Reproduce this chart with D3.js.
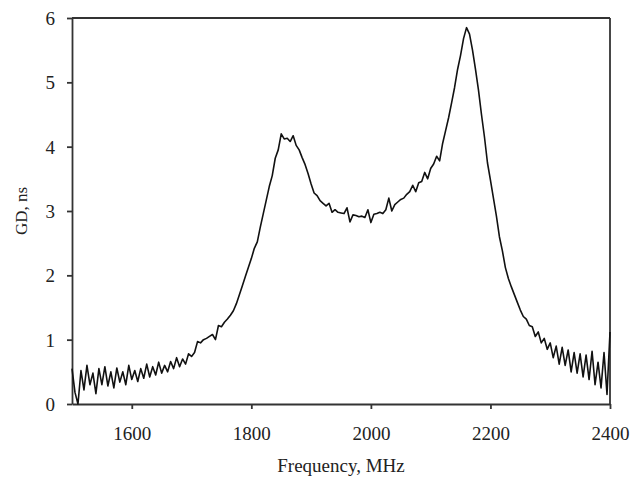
<!DOCTYPE html>
<html>
<head>
<meta charset="utf-8">
<script src="https://cdn.jsdelivr.net/npm/d3@7"></script>
<style>
  body { margin: 0; background: #fff; }
  text { font-family: "Liberation Serif", "Times New Roman", serif; fill: #222; }
</style>
</head>
<body>
<svg id="chart" width="643" height="483"></svg>
<script>
// frequency grid of the sweep (MHz)
const freqStart = 1500;
const freqStep = 5;

// group delay (ns), one value per 5 MHz, 1500..2400
const gdValues = [
    0.55, 0.18, 0.0, 0.52, 0.22, 0.6, 0.3, 0.48, 0.16, 0.55,
    0.3, 0.58, 0.28, 0.5, 0.25, 0.56, 0.34, 0.5, 0.3, 0.6,
    0.38, 0.52, 0.35, 0.55, 0.4, 0.62, 0.42, 0.58, 0.45, 0.65,
    0.48, 0.6, 0.5, 0.66, 0.55, 0.72, 0.58, 0.7, 0.62, 0.78,
    0.74, 0.8, 0.97, 0.95, 1.0, 1.02, 1.05, 1.08, 1.0, 1.22,
    1.2, 1.27, 1.32, 1.38, 1.45, 1.56, 1.7, 1.84, 1.98, 2.12,
    2.26, 2.42, 2.52, 2.75, 2.96, 3.17, 3.38, 3.55, 3.82, 3.95,
    4.2, 4.12, 4.13, 4.08, 4.17, 4.02, 3.95, 3.83, 3.72, 3.58,
    3.42, 3.28, 3.24, 3.16, 3.12, 3.08, 3.12, 2.98, 3.02, 2.98,
    2.97, 2.96, 3.05, 2.83, 2.94, 2.93, 2.91, 2.92, 2.9, 3.02,
    2.82, 2.95, 2.96, 2.98, 2.96, 3.02, 3.2, 3.0, 3.1, 3.14,
    3.18, 3.2, 3.26, 3.3, 3.4, 3.3, 3.44, 3.46, 3.6, 3.5,
    3.66, 3.73, 3.85, 3.78, 4.05, 4.25, 4.45, 4.68, 4.92, 5.2,
    5.42, 5.68, 5.85, 5.75, 5.5, 5.2, 4.88, 4.5, 4.15, 3.75,
    3.48, 3.2, 2.92, 2.6, 2.38, 2.12, 1.95, 1.82, 1.7, 1.58,
    1.46, 1.36, 1.32, 1.22, 1.2, 1.05, 1.12, 0.95, 1.02, 0.85,
    0.95, 0.72, 0.9, 0.62, 0.88, 0.6, 0.84, 0.5, 0.8, 0.48,
    0.78, 0.42, 0.76, 0.38, 0.82, 0.3, 0.65, 0.25, 0.8, 0.15,
    1.12
];

const xTicks = [1600, 1800, 2000, 2200, 2400];
const yTicks = [0, 1, 2, 3, 4, 5, 6];

const data = gdValues.map((v, i) => ({ f: freqStart + i * freqStep, gd: v }));

const svg = d3.select("#chart");
const margin = { top: 18, right: 33, bottom: 79, left: 72 };
const width = +svg.attr("width");
const height = +svg.attr("height");
const innerWidth = width - margin.left - margin.right;
const innerHeight = height - margin.top - margin.bottom;

const x = d3.scaleLinear().domain([1500, 2400]).range([0, innerWidth]);
const y = d3.scaleLinear().domain([0, 6]).range([innerHeight, 0]);

const g = svg.append("g")
    .attr("transform", `translate(${margin.left},${margin.top})`);

const axisColor = "#333";

// frame: top and right edges
g.append("line")
    .attr("x1", 0).attr("x2", innerWidth)
    .attr("y1", 0).attr("y2", 0)
    .attr("stroke", axisColor).attr("stroke-width", 1.8);
g.append("line")
    .attr("x1", innerWidth).attr("x2", innerWidth)
    .attr("y1", 0).attr("y2", innerHeight)
    .attr("stroke", axisColor).attr("stroke-width", 1.8);

const xAxis = g.append("g")
    .attr("transform", `translate(0,${innerHeight})`)
    .call(d3.axisBottom(x).tickValues(xTicks).tickFormat(d3.format("d"))
        .tickSize(5).tickSizeOuter(0));

xAxis.selectAll("text")
    .attr("y", 36)
    .attr("dy", null)
    .style("font-size", "19px");

const yAxis = g.append("g")
    .call(d3.axisLeft(y).tickValues(yTicks).tickFormat(d3.format("d"))
        .tickSize(5).tickSizeOuter(0));

yAxis.selectAll("text")
    .attr("x", -17)
    .attr("dy", "0.34em")
    .style("font-size", "19px");

[xAxis, yAxis].forEach(ax => {
    ax.attr("font-family", null).attr("font-size", null);
    ax.select(".domain").attr("stroke", axisColor).attr("stroke-width", 1.8);
    ax.selectAll(".tick line").attr("stroke", axisColor).attr("stroke-width", 1.8);
});

const line = d3.line()
    .x(d => x(d.f))
    .y(d => y(d.gd));

g.append("path")
    .datum(data)
    .attr("fill", "none")
    .attr("stroke", "#111")
    .attr("stroke-width", 1.6)
    .attr("stroke-linejoin", "round")
    .attr("d", line);

g.append("text")
    .attr("x", innerWidth / 2)
    .attr("y", innerHeight + 68)
    .attr("text-anchor", "middle")
    .style("font-size", "19px")
    .text("Frequency, MHz");

g.append("text")
    .attr("transform", `translate(${-margin.left + 27},${innerHeight / 2}) rotate(-90)`)
    .attr("text-anchor", "middle")
    .style("font-size", "17px")
    .text("GD, ns");
</script>
</body>
</html>
